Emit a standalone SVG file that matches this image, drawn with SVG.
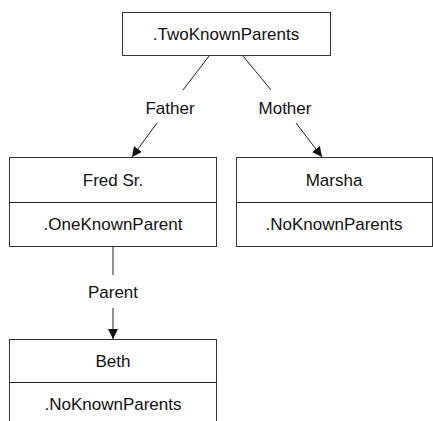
<svg xmlns="http://www.w3.org/2000/svg" width="433" height="421" viewBox="0 0 433 421">
<style>
.box{fill:#fff;stroke:#333;stroke-width:1}
.t{font-family:"Liberation Sans",Arial,sans-serif;font-size:17px;fill:#111;text-anchor:middle;dominant-baseline:central}
.e{stroke:#222;stroke-width:1;fill:none}
</style>
<defs>
<marker id="ah" viewBox="0 0 10 10" refX="10" refY="5" markerWidth="10" markerHeight="10" markerUnits="userSpaceOnUse" orient="auto">
<path d="M0,0 L10,5 L0,10 z" fill="#111"/>
</marker>
</defs>
<rect width="433" height="421" fill="#fff"/>
<g id="connectors">
<line class="e" x1="209" y1="56" x2="183" y2="90"/>
<text class="t" x="170" y="108">Father</text>
<line class="e" x1="157" y1="123" x2="132" y2="157" marker-end="url(#ah)"/>
<line class="e" x1="243" y1="56" x2="271" y2="90"/>
<text class="t" x="285" y="108">Mother</text>
<line class="e" x1="296" y1="123" x2="322" y2="157" marker-end="url(#ah)"/>
<line class="e" x1="113" y1="246" x2="113" y2="275"/>
<text class="t" x="113" y="292">Parent</text>
<line class="e" x1="113" y1="308" x2="113" y2="339" marker-end="url(#ah)"/>
</g>
<g id="two">
<rect class="box" x="122.5" y="12.5" width="208" height="43"/>
<text class="t" x="226" y="34">.TwoKnownParents</text>
</g>
<g id="fred">
<rect class="box" x="9.5" y="157.5" width="207" height="89"/>
<line class="e" x1="9.5" y1="202.5" x2="216.5" y2="202.5"/>
<text class="t" x="113" y="180">Fred Sr.</text>
<text class="t" x="113" y="224">.OneKnownParent</text>
</g>
<g id="marsha">
<rect class="box" x="236.5" y="157.5" width="196" height="89"/>
<line class="e" x1="236.5" y1="202.5" x2="432.5" y2="202.5"/>
<text class="t" x="334" y="180">Marsha</text>
<text class="t" x="334" y="224">.NoKnownParents</text>
</g>
<g id="beth">
<rect class="box" x="9.5" y="339.5" width="207" height="100"/>
<line class="e" x1="9.5" y1="382.5" x2="216.5" y2="382.5"/>
<text class="t" x="113" y="361">Beth</text>
<text class="t" x="113" y="404">.NoKnownParents</text>
</g>
</svg>
